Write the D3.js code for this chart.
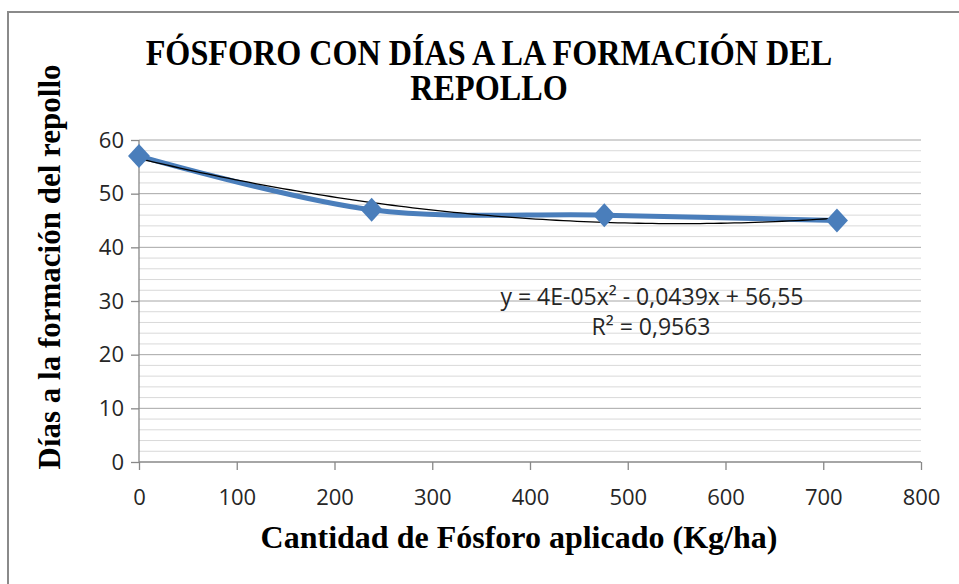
<!DOCTYPE html>
<html>
<head>
<meta charset="utf-8">
<script src="https://cdn.jsdelivr.net/npm/d3@7"></script>
<style>
  body { margin: 0; background: #fff; }
  .tick text { font-family: "Open Sans", sans-serif; font-size: 22px; fill: #262626; }
  .title, .axisTitle { font-family: "Liberation Serif", "Times New Roman", serif; font-weight: bold; fill: #000; }
  .eq { font-family: "Open Sans", sans-serif; font-size: 23px; fill: #262626; }
</style>
</head>
<body>
<div id="chart"></div>
<script>
// data
let fosforo = [0, 238, 476, 714];
let dias = [57, 47, 46, 45];
let xTicks = [0, 100, 200, 300, 400, 500, 600, 700, 800];
let yTicks = [0, 10, 20, 30, 40, 50, 60];
let titleLines = ["FÓSFORO CON DÍAS A LA FORMACIÓN DEL", "REPOLLO"];

let width = 959;
let height = 584;

let plotLeft = 139;
let plotRight = 921;
let plotTop = 140;
let plotBottom = 462;

let svg = d3
  .select("#chart")
  .append("svg")
  .attr("width", width)
  .attr("height", height);

// outer chart border (runs off the right and bottom edges)
svg
  .append("rect")
  .attr("x", 8)
  .attr("y", 12)
  .attr("width", 1000)
  .attr("height", 1000)
  .attr("fill", "none")
  .attr("stroke", "#8a8a8a")
  .attr("stroke-width", 2);

let xScale = d3.scaleLinear().domain([0, 800]).range([plotLeft, plotRight]);
let yScale = d3.scaleLinear().domain([0, 60]).range([plotBottom, plotTop]);

// minor gridlines every 2, major every 10
let minor = d3.range(2, 60, 2).filter(function(v) { return v % 10 !== 0; });
svg
  .append("g")
  .selectAll("line")
  .data(minor)
  .enter()
  .append("line")
  .attr("x1", plotLeft)
  .attr("x2", plotRight)
  .attr("y1", function(d) { return yScale(d); })
  .attr("y2", function(d) { return yScale(d); })
  .attr("stroke", "#d9d9d9")
  .attr("stroke-width", 1);

svg
  .append("g")
  .selectAll("line")
  .data(yTicks.slice(1))
  .enter()
  .append("line")
  .attr("x1", plotLeft)
  .attr("x2", plotRight)
  .attr("y1", function(d) { return yScale(d); })
  .attr("y2", function(d) { return yScale(d); })
  .attr("stroke", "#a6a6a6")
  .attr("stroke-width", 1);

let xAxis = d3.axisBottom(xScale).tickValues(xTicks).tickSize(8).tickPadding(19);
let yAxis = d3.axisLeft(yScale).tickValues(yTicks).tickSize(8).tickPadding(7);

let gx = svg
  .append("g")
  .attr("class", "xAxis")
  .attr("transform", "translate(0," + plotBottom + ")")
  .call(xAxis);
let gy = svg
  .append("g")
  .attr("class", "yAxis")
  .attr("transform", "translate(" + plotLeft + ",0)")
  .call(yAxis);

[gx, gy].forEach(function(g) {
  g.select(".domain").attr("stroke", "#888").attr("stroke-width", 1.3);
  g.selectAll(".tick line").attr("stroke", "#888").attr("stroke-width", 1.3);
});
gy.select(".domain").attr("d", "M" + 0 + "," + plotBottom + "V" + plotTop);
gx.select(".domain").attr("d", "M" + plotLeft + ",0H" + plotRight);

// quadratic least-squares trendline from the data points
function fitQuad(xs, ys) {
  let s = [0, 0, 0, 0, 0];
  let t = [0, 0, 0];
  xs.forEach(function(x, i) {
    for (let k = 0; k < 5; k++) s[k] += Math.pow(x, k);
    for (let k = 0; k < 3; k++) t[k] += Math.pow(x, k) * ys[i];
  });
  let m = [
    [s[0], s[1], s[2], t[0]],
    [s[1], s[2], s[3], t[1]],
    [s[2], s[3], s[4], t[2]]
  ];
  for (let i = 0; i < 3; i++) {
    for (let j = i + 1; j < 3; j++) {
      let f = m[j][i] / m[i][i];
      for (let k = i; k < 4; k++) m[j][k] -= f * m[i][k];
    }
  }
  let c = [0, 0, 0];
  for (let i = 2; i >= 0; i--) {
    let v = m[i][3];
    for (let k = i + 1; k < 3; k++) v -= m[i][k] * c[k];
    c[i] = v / m[i][i];
  }
  return c;
}
let coef = fitQuad(fosforo, dias);
let trendX = d3.range(0, 715, 7);
let trend = trendX.map(function(x) {
  return [x, coef[0] + coef[1] * x + coef[2] * x * x];
});

let line = d3
  .line()
  .x(function(d) { return xScale(d[0]); })
  .y(function(d) { return yScale(d[1]); });

let series = fosforo.map(function(x, i) { return [x, dias[i]]; });

svg
  .append("path")
  .datum(series)
  .attr("d", line.curve(d3.curveCatmullRom.alpha(0.5)))
  .attr("fill", "none")
  .attr("stroke", "#4a7ebb")
  .attr("stroke-width", 5);

svg
  .append("path")
  .datum(trend)
  .attr("d", line.curve(d3.curveLinear))
  .attr("fill", "none")
  .attr("stroke", "#000")
  .attr("stroke-width", 1.3);

svg
  .append("g")
  .selectAll("path")
  .data(series)
  .enter()
  .append("path")
  .attr("transform", function(d) {
    return "translate(" + xScale(d[0]) + "," + yScale(d[1]) + ")";
  })
  .attr("d", "M0,-12L11,0L0,12L-11,0Z")
  .attr("fill", "#4a7ebb");

// equation labels
svg
  .append("text")
  .attr("class", "eq")
  .attr("x", 652)
  .attr("y", 305)
  .attr("text-anchor", "middle")
  .text("y = 4E-05x² - 0,0439x + 56,55");
svg
  .append("text")
  .attr("class", "eq")
  .attr("x", 651)
  .attr("y", 335)
  .attr("text-anchor", "middle")
  .text("R² = 0,9563");

// title, slightly condensed like the original
let squeeze = 0.92;
svg
  .append("g")
  .attr("transform", "scale(" + squeeze + ",1)")
  .selectAll(".title")
  .data(titleLines)
  .enter()
  .append("text")
  .attr("class", "title")
  .attr("x", 489 / squeeze)
  .attr("y", function(d, i) { return 65 + i * 35; })
  .attr("text-anchor", "middle")
  .attr("font-size", 35)
  .text(function(d) { return d; });

svg
  .append("text")
  .attr("class", "axisTitle")
  .attr("x", 519)
  .attr("y", 548)
  .attr("text-anchor", "middle")
  .attr("font-size", 32)
  .text("Cantidad de Fósforo aplicado (Kg/ha)");

svg
  .append("text")
  .attr("class", "axisTitle")
  .attr("transform", "translate(60,267)rotate(-90)")
  .attr("text-anchor", "middle")
  .attr("font-size", 31)
  .text("Días a la formación del repollo");
</script>
</body>
</html>
